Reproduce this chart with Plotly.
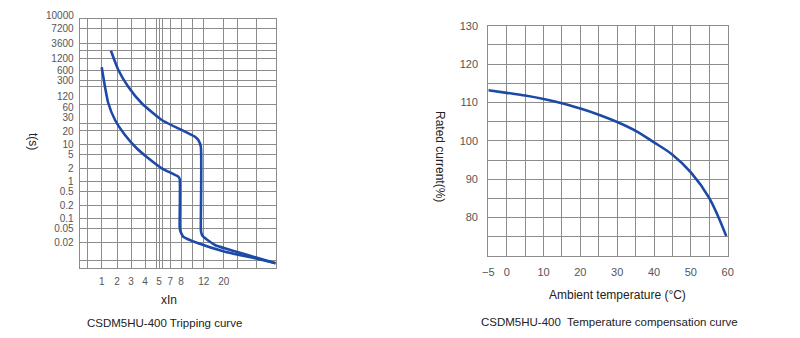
import numpy as np
import plotly.graph_objects as go

# ---------------- data: tripping curve (xIn, seconds) ----------------
trip_low_x = [1.0, 1.16, 1.35, 1.83, 2.52, 3.37, 4.22, 5.42, 7.73, 7.87, 7.87, 7.93, 8.1, 8.33, 10.9, 20.7, 44.6, 75.5]
trip_low_t = [730, 206, 76, 27.7, 16.3, 7.6, 3.8, 2.0, 1.3, 1.15, 0.055, 0.042, 0.034, 0.0285, 0.0183, 0.0104, 0.0067, 0.0048]

trip_high_x = [1.52, 2.08, 2.77, 3.74, 5.42, 8.6, 10.27, 10.9, 11.4, 11.4, 11.45, 11.6, 11.9, 16.0, 31.7, 75.5]
trip_high_t = [2100, 625, 206, 76, 27.7, 19.3, 14.9, 12.6, 8.5, 0.05, 0.04, 0.033, 0.0285, 0.0164, 0.0094, 0.0048]

# tick labels of the (irregular) graph paper
x_tick_values = [1, 2, 3, 4, 5, 7, 8, 12, 20]
y_tick_values = [10000, 7200, 3600, 1200, 600, 300, 120, 60, 30, 20, 10, 5, 2, 1, 0.5, 0.2, 0.1, 0.05, 0.02]

# ---------------- data: temperature compensation ----------------
temp_c = [-5, 0, 5, 10, 15, 20, 25, 30, 35, 40, 45, 50, 55, 59.6]
rated_pct = [113.2, 112.5, 111.8, 110.9, 109.8, 108.4, 106.8, 104.9, 102.6, 99.6, 96.4, 91.8, 85.1, 75.2]
temp_x_ticks = [-5, 0, 10, 20, 30, 40, 50, 60]
temp_y_ticks = [130, 120, 110, 100, 90, 80]

# ---------------- layout of the graph paper (axis units) ----------------
X_TICK_POS = [101.7, 117, 131, 145, 159, 170.3, 181, 203.7, 223.7]
X_GRID_POS = [87.7, 101.7, 117, 131, 145, 156.3, 159, 162.3, 170.3, 181, 192.3, 203.7, 223.7, 237.7, 256.7]
X_RANGE = [79.7, 275.7]
Y_TICK_POS = [19.3, 28.3, 43, 58.7, 70.7, 80.3, 96, 107, 117.3, 131, 144.5, 154, 168.3, 181.7,
              191.7, 205.3, 218.3, 228.3, 242]
Y_GRID_POS = [28.3, 43, 50, 58.7, 70.7, 80.3, 86.7, 104.3, 123.7, 130.5, 144.5, 154, 168.3, 181.7,
              191.7, 205.3, 218.3, 228.3, 242, 260.7]
Y_RANGE = [267.7, 19.3]


def paper_scale(vals, tick_vals, tick_pos):
    """Piecewise-log scale of the printed graph paper (extrapolated at the ends)."""
    lv = np.log10(np.asarray(vals, dtype=float))
    lt = np.log10(np.asarray(tick_vals, dtype=float))
    tp = np.asarray(tick_pos, dtype=float)
    order = np.argsort(lt)
    lt, tp = lt[order], tp[order]
    out = np.interp(lv, lt, tp)
    lo_slope = (tp[1] - tp[0]) / (lt[1] - lt[0])
    hi_slope = (tp[-1] - tp[-2]) / (lt[-1] - lt[-2])
    out = np.where(lv < lt[0], tp[0] + (lv - lt[0]) * lo_slope, out)
    out = np.where(lv > lt[-1], tp[-1] + (lv - lt[-1]) * hi_slope, out)
    return out


W, H = 800, 338
BLUE = "#1d4aa6"
GRID = "#8c8c8c"
FONT = "Liberation Sans, Arial, sans-serif"

fig = go.Figure()

for xs, ts in [(trip_low_x, trip_low_t), (trip_high_x, trip_high_t)]:
    fig.add_trace(go.Scatter(
        x=paper_scale(xs, x_tick_values, X_TICK_POS),
        y=paper_scale(ts, y_tick_values, Y_TICK_POS),
        mode="lines", line=dict(color=BLUE, width=2.6, shape="spline", smoothing=0.5),
        xaxis="x", yaxis="y", hoverinfo="skip"))

fig.add_trace(go.Scatter(
    x=temp_c, y=rated_pct, mode="lines",
    line=dict(color=BLUE, width=2.6, shape="spline", smoothing=1.0),
    xaxis="x2", yaxis="y2", hoverinfo="skip"))

tickfont = dict(family=FONT, size=11, color="#555555")
small_tickfont = dict(family=FONT, size=10, color="#555555")

def px_dom(a, b, total, flip=False):
    if flip:
        return [1 - b / total, 1 - a / total]
    return [a / total, b / total]

# the top label (10000) is printed just above the frame, drawn separately below
y_ticktext = ["" if v == 10000 else f"{v:g}" for v in y_tick_values]

common = dict(zeroline=False, ticks="", showgrid=False, automargin=False,
              showline=True, mirror=True, linecolor=GRID, linewidth=1.2)

fig.update_layout(
    width=W, height=H, margin=dict(l=0, r=0, t=0, b=0, autoexpand=False),
    paper_bgcolor="white", plot_bgcolor="white", showlegend=False,
    xaxis=dict(domain=px_dom(79.7, 275.7, W), range=X_RANGE, anchor="y",
               tickmode="array", tickvals=X_TICK_POS, ticktext=[str(v) for v in x_tick_values],
               tickfont=small_tickfont, ticklabelstandoff=4,
               minor=dict(tickmode="array", tickvals=X_GRID_POS, showgrid=True, gridcolor=GRID, gridwidth=1, ticks=""),
               **common),
    yaxis=dict(domain=px_dom(19.3, 267.7, H, flip=True), range=Y_RANGE, anchor="x",
               tickmode="array", tickvals=Y_TICK_POS, ticktext=y_ticktext,
               tickfont=small_tickfont, ticklabelstandoff=3,
               minor=dict(tickmode="array", tickvals=Y_GRID_POS, showgrid=True, gridcolor=GRID, gridwidth=1, ticks=""),
               **common),
    xaxis2=dict(domain=px_dom(488.3, 727.7, W), range=[-5, 60], anchor="y2",
                tickmode="array", tickvals=temp_x_ticks,
                ticktext=["\u22125" if v < 0 else str(v) for v in temp_x_ticks],
                tickfont=tickfont, ticklabelstandoff=6,
                minor=dict(tickmode="linear", tick0=-5, dtick=5, showgrid=True, gridcolor=GRID, gridwidth=1, ticks=""),
                **common),
    yaxis2=dict(domain=px_dom(25.7, 256.0, H, flip=True), range=[70, 130], anchor="x2",
                tickmode="array", tickvals=temp_y_ticks, ticktext=[str(v) for v in temp_y_ticks],
                tickfont=tickfont, ticklabelstandoff=7,
                minor=dict(tickmode="linear", tick0=70, dtick=5, showgrid=True, gridcolor=GRID, gridwidth=1, ticks=""),
                **common),
)

def ann(text, px, py, size=12, angle=0, color="#222222", xanchor="center"):
    fig.add_annotation(text=text, x=px / W, y=1 - py / H, xref="paper", yref="paper",
                       showarrow=False, textangle=angle, xanchor=xanchor, yanchor="middle",
                       font=dict(family=FONT, size=size, color=color))

ann(f"{y_tick_values[0]:g}", 76, 15, size=10, color="#555555", xanchor="right")
ann("t(s)", 33, 141, size=12, angle=90)
ann("xIn", 169, 300, size=12)
ann("CSDM5HU-400 Tripping curve", 164, 323, size=11.5)
ann("Rated current(%)", 440, 156, size=12, angle=90)
ann("Ambient temperature (\u00b0C)", 617, 295, size=12)
ann("CSDM5HU-400  Temperature compensation curve", 609, 322, size=11.5)

fig.write_html("out.html")
